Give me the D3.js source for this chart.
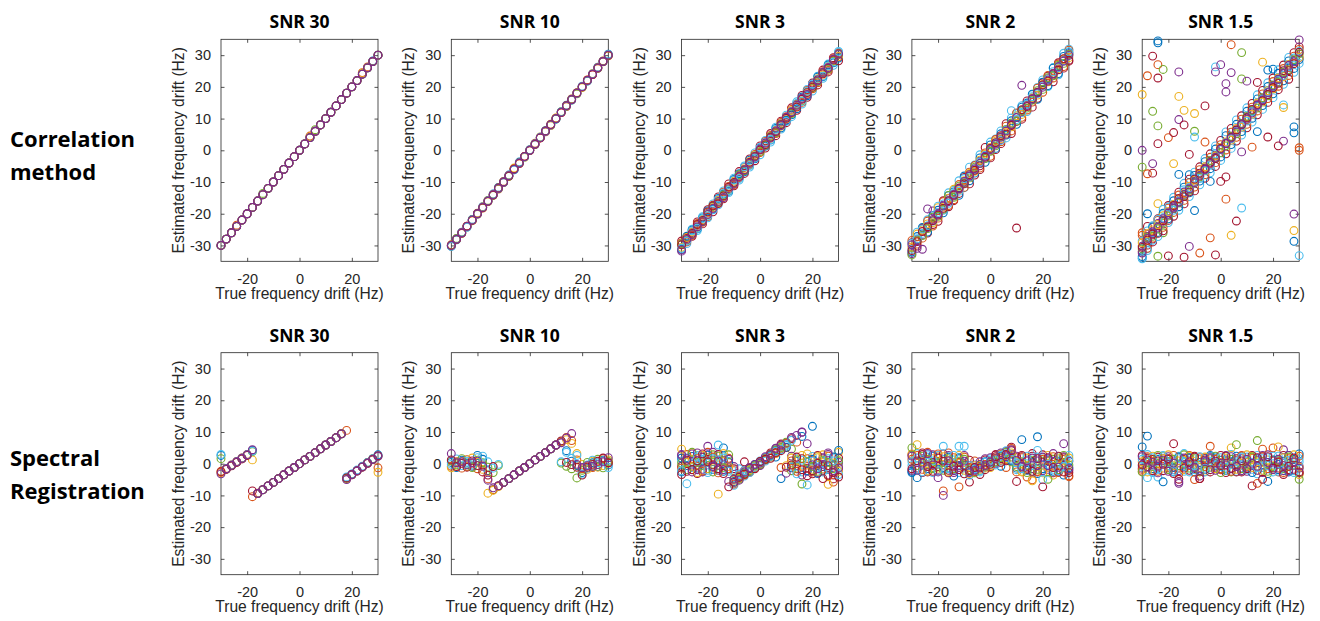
<!DOCTYPE html>
<html>
<head>
<meta charset="utf-8">
<script src="https://cdn.jsdelivr.net/npm/d3@7"></script>
<style>
  body { margin: 0; background: #fff; }
  svg { display: block; }
  .tick text { font-family: "Liberation Sans", Arial, Helvetica, sans-serif; font-size: 14.5px; fill: #262626; }
  .axis-label { font-family: "Liberation Sans", Arial, Helvetica, sans-serif; font-size: 15.6px; fill: #262626; }
  .title { font-family: "Open Sans", "Noto Sans", sans-serif; font-weight: 700; font-size: 17.5px; fill: #000; }
  .row-label { font-family: "Open Sans", "Noto Sans", sans-serif; font-weight: 700; font-size: 22px; fill: #000; }
</style>
</head>
<body>
<svg id="chart" width="1320" height="621"></svg>
<script>
// true drift values (Hz), shared by every panel
const drift = [-30,-28,-26,-24,-22,-20,-18,-16,-14,-12,-10,-8,-6,-4,-2,0,2,4,6,8,10,12,14,16,18,20,22,24,26,28,30]

const snrLabels = ['SNR 30', 'SNR 10', 'SNR 3', 'SNR 2', 'SNR 1.5']
const methodLabels = [['Correlation', 'method'], ['Spectral', 'Registration']]
const xTicks = [-20, 0, 20]
const yTicks = [-30, -20, -10, 0, 10, 20, 30]

// matlab colour order, purple drawn last
const markerColors = ['#0072BD', '#D95319', '#EDB120', '#77AC30', '#4DBEEE', '#A2142F', '#7E2F8E']

//----------------------- correlation method -------------------------------
const corr30 = [
[-30,-28,-26,-24,-22,-20,-18,-16,-14,-12,-10,-8,-6,-4,-2,0,2,4,6,8,10,12,14,16,18,20,22,24,26,28.2,30],
[-30,-28,-26,-23.6,-22,-20,-18,-16,-14,-12,-10,-8,-6,-4,-2,0,2,4.5,6,8,10,12,14,16,18,20,22,24.5,26.3,28,30],
[-30,-28,-26,-24,-22,-20,-18,-16,-14,-12,-10,-8,-6,-4,-2,0,2,4.3,6,8,10,12,14,16,18,20,22,24.3,26,28,30],
[-30,-28,-26,-24,-22,-20,-18,-16,-13.6,-12,-10,-8,-6,-4,-2,0,2,4,6.5,8,10,12,14,16,18,20,22,24,26,28,30],
[-30,-28,-26,-24,-22,-20,-18,-16,-14,-12,-10,-8,-6,-4,-2,0,2,4,6,8,10,12,14,16,18,20,22,24,26,28,30],
[-30,-28,-26,-24,-22,-20,-18,-16,-14,-12,-10,-8,-6,-4,-2,0,2,4,6,8,10,12,14,16,18,20,22,24,26,28,30],
[-30,-28,-26,-24,-22,-20,-18,-16,-14,-12,-10,-8,-6,-4,-2,0,2,4,6,8,10,12,14,16,18,20,22,24,26,28,30]
]

const corr10 = [
[-30.3,-28.2,-25.8,-24.2,-21.8,-20,-17.8,-16.1,-13.8,-11.7,-10.2,-7.8,-6.1,-3.7,-2.1,0.2,1.8,4.1,6.2,7.9,9.8,12.1,14.2,15.8,18.1,19.9,21.8,24.1,26.2,28,30.3],
[-29.8,-27.9,-26.2,-23.9,-22.1,-19.8,-18.2,-15.9,-14.1,-12.2,-9.8,-8.1,-5.8,-4.2,-1.9,-0.1,2.2,3.9,5.8,8.2,10.1,11.9,13.8,16.2,17.9,20.1,22.2,23.9,25.8,28.2,29.8],
[-30.1,-28.1,-25.9,-24.1,-22.2,-20.2,-17.9,-16.2,-13.9,-11.9,-10.1,-7.9,-5.6,-4.1,-2.2,0.1,1.9,4.2,5.9,7.8,10.2,12,14.1,15.9,18.2,19.8,22.1,24.2,26.1,27.9,30.1],
[-29.9,-27.8,-26.1,-24,-21.9,-19.9,-18.1,-15.8,-14.2,-12.1,-9.9,-8.2,-6,-3.9,-2,0,2.1,4,6.1,8.1,9.9,12.2,13.9,16.1,17.8,20,21.9,24,25.9,28.1,29.9],
[-30.2,-28,-26,-24.2,-22,-20.1,-18,-16,-14,-12,-10,-8,-6.2,-4,-2.1,0.1,2,4.1,6,8,10,12.1,14,16,18,20.2,22,24.1,26,28,30.2],
[-30,-28.1,-26.1,-23.9,-22.1,-20,-18.1,-16.1,-14.1,-11.9,-10,-8.1,-5.9,-4.1,-1.9,0,1.9,3.9,6.1,8.1,10,11.9,14.1,16,18.1,20,22.1,23.9,26,28,30],
[-30,-28,-26,-24,-22,-20,-18,-16,-14,-12,-10,-8,-6,-4,-2,0,2,4,6,8,10,12,14,16,18,20,22,24,26,28,30]
]

const corr3 = [
[-29.6,-29.4,-24.9,-25.3,-20.9,-21.3,-16.9,-17.2,-12.8,-13.3,-8.8,-9.4,-4.9,-5.3,-0.8,-1.4,3.1,2.6,7.3,6.7,11.1,10.6,15.3,14.6,19.2,18.7,23.4,22.7,27.2,26.8,30.9],
[-28.6,-27.3,-27.1,-22.6,-23.2,-18.7,-19.4,-14.7,-15.3,-10.6,-11.2,-6.7,-7.3,-2.7,-3.3,1.4,0.7,5.3,4.6,9.2,8.7,13.4,12.6,17.3,16.7,21.2,20.6,25.3,24.7,29.2,29.5],
[-31.8,-28.7,-25.9,-23.7,-22.4,-19.8,-18.2,-15.6,-14.4,-11.7,-10.4,-7.8,-6.5,-3.7,-2.3,0.2,1.6,4.2,5.6,8.3,9.6,12.3,13.8,16.2,17.7,20.3,21.8,24.4,25.7,28.2,30.2],
[-31.2,-27.1,-25.2,-24.8,-21.3,-19.1,-18.6,-15.2,-13.8,-12.9,-9.2,-7.4,-6.8,-3.1,-2.7,0.8,1.3,3.2,6.9,7.1,9.4,11.2,13.1,16.8,17.2,20.6,23.1,23.2,26.9,27.6,29.1],
[-29.2,-28.9,-26.8,-23.1,-22.7,-20.9,-17.3,-16.6,-13.2,-11.4,-10.8,-8.7,-5.4,-4.6,-1.3,-0.7,2.8,4.7,5.3,8.8,10.6,12.9,14.6,15.1,18.9,19.4,21.3,24.8,25.2,28.9,30.6],
[-30.6,-27.5,-25.7,-23.6,-21.8,-19.6,-18.1,-15.7,-14.6,-11.8,-9.7,-8.1,-5.9,-3.6,-2.2,0.3,2.1,3.8,6.3,7.6,9.9,12.5,13.7,16.3,17.8,20.2,22.6,23.7,26.4,28.3,29.6],
[-29.5,-28.3,-26.4,-24.3,-22.3,-20.3,-17.7,-16.3,-14.1,-12.4,-10.3,-7.7,-6.4,-4.3,-1.7,-0.4,1.6,4.4,5.6,8.3,10.3,11.6,14.3,15.6,18.4,19.7,21.7,24.4,25.6,28.1,30.3],
[-30.9,-28.6,-25.4,-24.6,-21.5,-20.7,-18.8,-15.4,-13.5,-12.7,-9.4,-8.9,-5.2,-4.8,-2.4,0.9,2.5,3.4,6.6,7.9,9.1,12.2,14.8,15.4,18.6,20.9,22.4,23.4,26.6,27.8,31.2],
[-29.8,-27.8,-26.2,-23.4,-22.1,-19.4,-17.5,-16.8,-14.4,-11.6,-10.1,-8.4,-6.2,-3.8,-1.9,0.1,1.8,4.1,5.9,8.1,10.1,11.9,13.6,16.1,18.2,19.9,22.2,24.1,25.9,28.5,28.2],
[-31.4,-28.1,-26.6,-24.1,-22.5,-20.2,-18.3,-16.1,-14.9,-12.1,-10.6,-8.2,-6.1,-4.1,-2.1,0.4,2.3,3.9,6.1,7.8,10.4,12.1,14.2,16.4,17.6,20.4,21.9,24.6,26.1,28.7,30.4]
]

const corr2 = [
[-31.2,-25.8,-26.2,-21.9,-21.1,-17.6,-18.9,-13.4,-12.6,-9.6,-11.8,-5.3,-4.6,-1.4,-2.6,2.6,3.6,6.1,3.9,10.2,11.6,14.1,12.2,17.6,19.8,22.2,20.1,26.1,23.8,30.6,31.9],
[-29.1,-30.2,-24.6,-26.1,-23.4,-22.4,-15.9,-17.8,-15.9,-13.6,-8.6,-10.6,-7.8,-6.1,0.9,-2.4,0.2,2.1,8.4,5.3,9.1,9.8,15.6,13.6,16.4,21.3,23.4,21.6,27.6,25.9,28.1],
[-32.6,-28.2,-26.7,-24.4,-19.1,-19.9,-17.3,-15.2,-14.4,-12.1,-10.2,-8.2,-6.2,-3.4,-1.8,0.6,2.2,3.4,6.2,8.1,10.4,12.6,14.4,16.1,18.2,20.4,22.6,24.2,26.4,28.4,30.4],
[-32.1,-27.2,-24.3,-25.8,-20.6,-18.9,-19.7,-14.3,-13.1,-14.2,-8.1,-9.6,-7.2,-2.4,-3.8,1.7,0.6,5.2,4.8,9.3,8.2,13.6,14.9,17.7,16.1,21.5,20.4,25.9,24.2,29.6,30.8],
[-28.4,-29.6,-27.7,-22.3,-23.9,-21.4,-16.2,-17.4,-15.6,-10.8,-11.7,-6.9,-4.8,-5.6,-0.8,-1.9,3.4,2.7,7.6,6.1,11.8,10.4,12.7,15.2,19.6,18.3,23.6,22.8,27.2,26.4,31.6],
[-30.5,-26.4,-25.1,-23.2,-22.8,-18.1,-17.9,-15.1,-12.3,-12.5,-9.6,-7.3,-6.6,-3.1,-1.2,0.9,2.9,3.6,5.7,7.4,10.9,11.3,14.2,16.6,17.4,20.8,21.6,24.3,25.8,28.7,29.2],
[-33,-28.5,-26.9,-24.7,-21.1,-20.8,-18.6,-14.2,-14.8,-11.3,-10.4,-8.7,-5.3,-4.2,-2.6,-0.3,1.4,4.3,6.6,8.6,9.2,12.4,13.3,15.8,18.8,19.2,22.9,23.5,26.8,27.4,30.2],
[-29.3,-27.9,-24.8,-23.8,-22.3,-19.6,-16.9,-16.7,-13.6,-12.9,-8.9,-8.3,-6.1,-3.7,-1.6,0.4,2.2,3.1,6.3,12.5,9.7,11.9,14.5,16.9,17.9,20.3,22.3,24.8,26.1,28.2,31.1],
[-31.6,-28.8,-25.6,-24.1,-22.2,-20.4,-18.3,-15.9,-14.1,-11.9,-10.6,-7.7,-6.3,-4.9,-2.2,0.6,2.4,4.6,5.1,7.9,-24.5,12.8,13.8,16.3,18.3,20.6,21.8,24.1,25.4,28.9,28.4],
[-29.8,-30.9,-31.2,-18.5,-21.8,-20.1,-17.6,-16.2,-13.9,-12.2,-9.8,-8.1,-5.8,-4.1,-1.9,0.2,1.9,4.1,6.1,8.2,10.3,20.5,14.1,16.2,18.1,19.9,22.1,24.2,26.3,28.1,29.9]
]

const corr15 = [
[-28.6,-25.4,-23.8,-27.2,-18.6,-22.8,-14.8,-18.9,-10.4,-14.6,-6.9,-10.9,-2.6,-7.1,1.4,-3.2,5.8,0.6,9.6,4.8,13.4,8.9,17.5,12.9,21.3,16.6,25.4,20.8,29.3,24.6,27.4],
[-31.9,-29.9,-28.9,-21.6,-25.4,-17.4,-20.8,-13.2,-16.9,-9.1,-12.8,-5.2,-8.8,-1.1,-5.1,3.1,-1.1,6.9,2.9,10.9,7.1,14.8,11.2,18.9,15.1,22.8,19.1,26.9,22.4,30.8,32.6],
[-30.2,-27.2,-26.1,-23.1,-22.4,-20.2,-17.8,-16.4,-13.2,-12.3,-9.8,-8.2,-5.6,-4.4,-1.6,0.4,2.4,4.3,6.4,7.7,10.4,12.2,14.2,16.3,18.3,19.6,22.3,24.4,26.3,28.3,29.2],
[-33.5,-29.1,-24.2,-25.9,-19.8,-21.6,-15.9,-17.8,-11.6,-13.4,-7.9,-9.7,-3.6,-5.8,0.4,-2.1,4.6,1.8,8.2,5.9,12.3,10.1,16.2,14.1,20.1,17.8,24.3,21.9,28.2,25.8,28.6],
[-26.8,-30.9,-27.7,-22.1,-24.3,-18.2,-19.6,-14.1,-15.8,-10.2,-11.6,-6.1,-7.7,-2.2,-3.9,1.8,0.1,5.7,4.1,9.8,8.2,13.6,12.4,17.8,16.3,21.7,20.2,25.8,23.6,29.7,31.8],
[-29.2,-26.3,-25.1,-23.4,-20.6,-19.3,-17.1,-15.4,-13.7,-11.3,-9.4,-7.6,-5.2,-4.3,-1.8,0.9,2.6,3.2,6.9,7.3,9.6,11.4,14.9,15.2,18.8,19.4,22.8,23.2,27.1,27.4,29.3],
[-31.1,-27.4,-27.1,-24.8,-22.9,-20.7,-18.4,-16.6,-14.3,-12.6,-10.3,-8.4,-6.5,-3.2,-2.4,-0.8,1.4,4.4,5.2,8.5,10.7,12.6,13.3,16.6,17.2,20.6,21.4,24.7,25.4,28.6,30.4],
[-34.2,-31.6,-28.4,-21.8,-21.3,-17.9,-18.9,-16.1,-12.4,-11.8,-8.8,-8.9,-6.3,-4.6,-1.1,0.2,2.3,3.7,6.1,7.7,9.2,12.2,14.1,16.1,18.4,20.1,22.2,23.6,26.3,29.1,31.2],
[-30.6,-28.3,-26.4,-26.2,-22.2,-22.1,-17.4,-15.2,-14.6,-13.1,-9.1,-7.2,-5.9,-3.8,-2.6,0.6,2.1,4.1,6.4,8.1,10.2,12.9,14.4,15.7,17.6,19.8,21.1,25.1,25.1,27.3,30.9],
[-32.4,-27.8,-25.7,-24.3,-21.6,-19.7,-18.2,-16.3,-13.9,-12.1,-10.2,-7.9,-6.1,-4.1,-2.2,0.3,2.2,3.9,5.8,8.3,9.8,11.8,14.2,15.9,18.2,20.3,22.4,24.2,26.8,27.9,34.8]
]

// off-line estimates [true, estimated, colour index]
const corr15Extra = [
[-24,34.5,0],[-24,33.9,0],[-26,29.7,5],[-24,27,1],[-22,25.5,3],[-28,23.5,1],[-24,22.8,5],[-16,24.7,6],[-30,17.6,2],[-16,17,2],
[-2,26.3,4],[-2,24.7,6],[0,27,6],[4,24.5,6],[4,33.3,1],[8,30.8,3],[2,21,6],[2,18.4,6],[8,22.5,3],[10,21.8,6],
[14,21.4,5],[16,27.8,2],[18,25.3,0],[-26,12.3,3],[-24,7.7,3],[-24,2.1,5],[-16,9.7,6],[-14,8,5],[-20,4,1],[-18,5.6,5],
[-14,12.6,2],[-10,11.6,2],[-10,6,3],[-10,4.2,4],[-6,14,5],[-6,2.6,1],[-30,0,6],[-30,-5.3,3],[-28,-7.4,1],[-26,-4.2,6],
[-26,-7.2,5],[-12,-1.3,5],[-18,-4.2,2],[-16,-7.6,0],[-12,-7.7,0],[-10,-19,0],[-4,-9.8,0],[0,-9.8,5],[2,-8.4,5],[2,-15.4,1],
[6,-22.3,5],[8,-18.2,4],[4,-26.8,2],[-4,-27.6,1],[-12,-30.3,6],[-20,-33.3,5],[-14,-33.7,5],[-8,-32.4,1],[-2,-33,5],[-24,-33.4,3],
[-24,-16.8,2],[-28,-20,0],[28,-20.1,6],[28,-25.3,2],[28,-28.7,0],[30,-33.2,4],[28,7.4,0],[28,5.5,0],[30,0.8,1],[30,0,1],
[24,2.9,6],[22,1.4,5],[14,5.9,0],[18,4.2,5],[12,1,1],[8,-0.5,6],[24,14.3,4],[24,13.5,2],[20,25.6,0],[-28,-24,5],
[-30,-26,1],[-28,-31,4],[-30,-34,0],[-26,-28,5],[-22,-26,3],[-22,-20,4]
]

//----------------------- spectral registration ----------------------------
const sr30 = [
[2.6,-1.7,-0.6,0.5,1.6,2.7,4.2,-9.4,-8.2,-7,-5.9,-4.7,-3.5,-2.3,-1.2,0,1.2,2.3,3.5,4.7,5.9,7,8.2,9.4,-4.4,-3.3,-2.1,-0.9,0.3,1.5,2.8],
[-2.4,-1.5,-0.4,0.7,1.8,2.9,-10.4,-9.3,-8.2,-7,-5.9,-4.7,-3.5,-2.3,-1.2,0,1.2,2.3,3.5,4.7,5.9,7,8.2,9.5,10.5,-3.5,-2.3,-1.1,0.1,1.3,-1.3],
[-2.8,-1.7,-0.6,0.5,1.6,2.7,1.2,-9.4,-8.2,-7,-5.9,-4.7,-3.5,-2.3,-1.2,0,1.2,2.3,3.5,4.7,5.9,7,8.2,9.4,-4.8,-3.4,-2.2,-1,0.2,1.2,-2.7],
[1.6,-1.6,-0.5,0.6,1.7,2.8,3.8,-9.4,-8.2,-7,-5.9,-4.7,-3.5,-2.3,-1.2,0,1.2,2.3,3.5,4.7,5.9,7,8.2,9.4,-4.6,-3.4,-2.2,-1,0.4,1.6,2.4],
[2.9,-1.6,-0.5,0.6,1.7,2.8,4,-9.4,-8.2,-7,-5.9,-4.7,-3.5,-2.3,-1.2,0,1.2,2.3,3.5,4.7,5.9,7,8.2,9.4,-4.2,-3.2,-2,-0.8,0.4,1.6,2.6],
[-2.6,-1.8,-0.7,0.4,1.5,2.6,-8.6,-9.4,-8.2,-7,-5.9,-4.7,-3.5,-2.3,-1.2,0,1.2,2.3,3.5,4.7,5.9,7,8.2,9.4,-4.5,-3.4,-2.2,-1,0.2,1.4,2.5],
[-3.2,-1.6,-0.5,0.6,1.7,2.8,4.4,-9.4,-8.2,-7,-5.9,-4.7,-3.5,-2.3,-1.2,0,1.2,2.3,3.5,4.7,5.9,7,8.2,9.4,-5,-3.5,-2.3,-1.1,0.1,1.3,2.3]
]

const sr10 = [
[0.4,-1.2,1.1,0.2,-0.8,2.6,1.4,-2.2,-8.2,-7,-5.9,-4.7,-3.5,-2.3,-1.2,0,1.2,2.3,3.5,4.7,5.9,7,4.1,0.8,-0.6,-2.8,-1.4,0.3,-0.9,1.1,-0.4],
[-0.8,0.6,-1.4,1.3,0.2,-1.6,-0.4,-4.8,-8.2,-7,-5.9,-4.7,-3.5,-2.3,-1.2,0,1.2,2.3,3.5,4.7,5.9,6.8,8.3,7.3,1.2,-1.6,-0.7,-1.2,0.6,1.6,0.2],
[-1.3,0.2,0.7,-0.9,1.8,0.4,-1.8,-9.3,-8.4,-7.2,-5.9,-4.7,-3.5,-2.3,-1.2,0,1.2,2.3,3.5,4.7,5.9,7,7.6,6.4,3.2,-0.2,-1.8,0.8,-1.1,-0.6,1.2],
[0.9,-0.4,1.6,-0.3,-1.2,1.1,0.3,-1.1,-2.8,-0.6,-5.9,-4.7,-3.5,-2.3,-1.2,0,1.2,2.3,3.5,4.7,5.9,0.2,-0.8,-1.6,-4.5,-2.1,0.4,-0.8,1.4,-1.3,0.7],
[-0.2,1.5,-0.6,0.8,-0.4,1.9,2.4,0.6,-1.4,-0.2,-5.9,-4.7,-3.5,-2.3,-1.2,0,1.2,2.3,3.5,4.7,5.9,0.6,3.6,1.7,2.6,-3.3,-0.4,1.1,0.3,0.9,-1.2],
[1.2,-0.9,0.1,-1.1,0.9,-0.6,-2.6,-3.6,-0.9,-7,-5.9,-4.7,-3.5,-2.3,-1.2,0,1.2,2.3,3.5,4.7,5.9,7.2,0.4,-0.3,-1.1,-3.6,-1.1,-0.2,0.8,1.8,0.3],
[3.2,0.3,0.6,-0.4,0.3,0.8,-0.8,-5.2,-7.6,-7,-5.9,-4.7,-3.5,-2.3,-1.2,0,1.2,2.3,3.5,4.7,5.9,6.6,8.1,9.5,-0.2,-1.2,-0.6,-0.8,-0.3,0.6,1.9]
]

const sr3 = [
[0.9,1.8,-1.2,2.6,0.4,-2.8,1.9,-0.6,2.4,-1.9,-6.8,-3.2,-3.9,-2.4,-0.7,0.9,1.9,2.4,4.2,5.3,6.2,-0.8,1.6,-2.6,0.4,2.3,-0.6,-2.1,-1.2,1.6,-0.6],
[-0.8,-2.4,0.6,-0.4,2.1,1.4,-1.1,2.9,-0.4,0.4,-1.6,-4.4,-3.4,-1.8,-1.2,-0.4,1.2,3.4,3.6,6.2,5.1,7.9,-1.6,1.6,-1.4,-3.2,2.6,-0.9,-3.6,-0.4,1.8],
[2.9,0.8,3.1,-1.9,-2.4,0.9,3.6,-2.1,1.1,-5.6,-0.9,-4.6,-2.1,-2.6,-0.2,-0.6,1.7,2.2,4.9,4.6,6.6,2.4,-0.6,-3.6,-2.4,1.1,-2.8,1.6,2.9,-3.6,0.4],
[1.8,-0.6,2.3,-1.4,0.9,2.7,-1.8,1.2,-2.4,0.6,-5.6,-4.1,-2.9,-1.6,-0.4,0.3,1.8,2.6,4.1,-4.7,5.2,-1.3,0.8,8.6,-2.2,1.4,-3.1,0.6,-1.8,2.1,4.2],
[-1.4,2.9,-0.8,1.6,-2.3,0.4,2.1,-2.9,0.7,-1.6,-6.4,-3.8,-3.6,-2.7,-1.3,0.6,1.1,3.1,3.7,5.6,6.4,0.9,-2.4,-0.8,1.6,-2.6,0.3,-1.7,2.4,-5.8,-1.2],
[4.6,0.4,1.4,-2.8,2.6,-1.6,0.8,-9.6,3.2,-0.9,-5.2,-4.6,-2.4,-1.9,-0.9,0.1,1.6,2.1,3.2,4.9,-0.6,1.8,-1.4,2.6,-0.4,-1.8,1.9,2.8,-6.5,0.2,-2.4],
[0.2,-1.9,3.6,0.4,-0.6,1.9,-2.6,2.4,-1.3,2.8,-4.8,-4.9,-3.1,-2.2,-0.6,-0.2,1.3,2.8,4.4,5.1,6.8,-2.2,1.2,-6.4,0.6,-0.9,-2.4,1.1,0.4,-1.6,0.9],
[-2.2,-6.3,0.2,2.1,1.4,-2.1,1.6,5.9,1.8,-2.4,-6.1,-3.4,-2.2,-2.8,-1.1,0.4,0.8,2.3,3.9,4.4,5.8,7.4,-3.2,1.1,-6.7,0.8,-1.2,-2.6,1.6,0.9,-3.4],
[-3.4,1.1,-1.9,0.9,3.1,0.6,-0.4,-1.6,-3.1,-7.3,-5.9,-4.3,-3.3,-1.4,-1.6,0.7,1.4,1.7,3.4,4.1,-1.1,-0.4,2.1,-1.9,-3.8,-2.2,0.1,-4.7,-0.6,-2.8,-4.2],
[2.6,1.6,-2.6,3.4,-1.8,5.5,-0.9,0.8,-1.9,1.4,-4.9,-5.2,-2.6,-1.2,-0.2,0.2,2.2,2.9,4.8,5.9,-3,8.3,8.9,9.9,6.3,-0.4,-1.6,-0.2,3.4,-2.2,-1.4]
]

const sr3Extra = [
[-14,5,0],[20,11.8,0],[16,10,6],[-20,3.6,1],[-22,-2.6,6],[-26,3.4,2],[-18,2.8,3],[-10,-2.2,1],[-8,-1.6,4],[-6,0.6,5],
[8,-1.2,1],[12,4.6,3],[14,6.8,1],[22,2.4,2],[26,-3.8,1],[28,-4.8,5],[30,3.6,2],[-30,-2.6,0],[-24,-3.1,5],[-12,1.7,1],
[6,2.1,0],[18,3.1,2],[24,1.9,6]
]

const sr2 = [
[-0.6,3.2,-0.6,2.1,-2.8,2.6,-1.6,-1.2,1.2,-2.8,-1.1,-3.6,-0.4,-2.1,-0.4,1.6,0.4,0.8,1.9,2.9,-1.9,-0.9,1.2,-2.6,2.1,-0.4,-2.9,-1.8,1.2,-0.6,2.6],
[2.8,-1.4,3.4,-2.6,0.4,-0.9,3.1,-2.1,-0.4,0.4,-0.6,1.1,-2.6,-3.4,1.2,-0.9,2.8,1.6,0.9,5.2,1.9,2.2,-1.9,2.4,-2.6,2.8,0.9,-2.9,-0.6,1.9,-2.1],
[-2.1,0.4,1.6,-0.4,2.8,-2.6,-0.4,2.6,-2.8,-1.2,2.6,-0.6,-1.1,0.6,-1.1,1.9,0.1,2.9,3.9,1.2,0.8,-1.1,-0.9,-1.6,0.9,-2.2,1.6,0.4,-2.6,2.2,0.8],
[-2.8,-4.4,1.2,-1.6,2.4,0.6,-1.2,2.1,-3.9,1.6,-0.4,-2.6,-1.8,-1.1,0.6,0.4,1.2,2.4,3.1,0.9,-1.4,7.6,-2.1,0.4,8.5,-1.6,1.2,-2.4,0.6,-3.6,-1.2],
[1.4,2.6,-1.8,0.8,-0.6,3.1,-8.6,-0.4,1.9,-7.3,2.1,-1.2,-2.4,-0.8,-0.2,0.9,1.8,1.1,2.6,4.8,-2.6,1.9,-0.6,-5.1,-2.4,1.4,-1.1,2.2,-2.8,0.4,-4.1],
[3.1,6,0.6,-2.3,1.6,-1.4,2.2,-2.6,0.4,2.6,-2.1,-3.1,-0.6,-1.8,-1.4,-0.6,1.4,3.1,1.6,3.4,0.6,-2.4,1.8,-5.4,-0.9,-2.9,2.6,-0.8,1.6,-1.4,1.8],
[5,-0.6,2.4,1.4,-1.6,0.2,-2.1,1.6,-1.6,0.8,1.4,-1.9,-2.9,-0.4,-0.8,0.2,0.6,1.9,3.6,2.1,-0.9,0.6,-2.8,1.1,-1.8,0.8,-4.9,1.4,-1.9,2.6,-0.4],
[0.6,1.8,-2.6,2.8,0.9,-2.2,5.5,-1.6,2.6,5.5,5.5,-0.6,-1.6,-2.6,0.4,1.1,-0.4,2.6,4.1,1.4,0.3,-1.6,2.4,-0.6,4.2,-5,-0.2,0.8,-2.2,-0.9,1.1],
[-1.6,0.9,2.9,-0.9,-2.4,1.8,0.8,-2.9,-0.8,-1.9,-3.2,-2.2,-1.2,-1.4,-1.9,-0.2,2.2,0.4,2.9,4.1,-5.6,2.6,-1.4,-2.4,1.6,-7.3,1.9,-1.2,2.4,-2.6,-2.8],
[2.4,-2.1,0.2,3.2,-0.4,-4.4,-10,0.9,-2.2,-0.6,0.8,-2.8,-2.1,-0.2,-0.6,0.6,1.6,3.4,2.2,4.4,1.1,-0.8,0.9,1.8,-0.6,2.1,-0.6,3.2,-1.1,6.3,-1.6]
]

const sr2Extra = [
[-30,-2.4,0],[-26,-2.8,5],[-24,3.6,1],[-22,-1.2,3],[-20,2.2,2],[-18,1.4,4],[-16,3.4,1],[-14,-1.8,6],[-12,1.9,0],[-10,-1.4,2],
[-8,-5.8,5],[-6,0.9,1],[-4,-2.2,4],[-2,1.6,6],[0,-1.2,2],[2,2.8,5],[6,-1.2,1],[8,0.6,3],[12,-2.6,2],[14,-4.2,1],
[16,3.2,5],[18,-3.1,0],[20,1.9,4],[22,-1.8,6],[24,-3.6,2],[26,2.2,3],[28,1.4,1],[30,-3.8,1],[10,2.4,6],[4,-0.8,0]
]

const sr15 = [
[-0.8,2.9,-2.6,-1.2,2.6,-0.6,-1.9,2.4,-2.4,1.1,-1.9,1.4,-2.6,0.2,2.1,-0.9,-1.6,2.9,-2.4,-0.6,2.1,-1.8,2.6,-1.2,1.9,-2.6,2.4,-1.2,0.8,-2.2,1.6],
[2.6,-0.9,1.4,2.1,-2.2,1.4,-3.1,-1.4,1.4,-2.1,2.4,-0.4,1.8,-2.6,0.2,2.6,-2.8,0.2,1.6,-2.6,-1.1,2.6,-2.1,2.2,-0.4,0.9,-1.4,2.6,-1.9,0.4,-2.9],
[-1.4,0.8,-0.4,-2.9,0.2,2.2,0.9,-2.2,-0.2,1.8,-0.8,-2.1,0.9,1.9,-1.1,-0.4,1.2,-1.6,-0.8,1.6,0.4,-0.6,1.1,-2.8,2.8,-1.1,-0.2,-2.2,2.6,1.2,-0.8],
[5.3,8.7,-1.6,1.4,-5.7,0.6,-1.2,2.1,-0.8,1.9,-2.6,0.4,-1.8,2.6,-0.6,1.1,-2.1,0.6,2.4,-1.4,0.9,-2.8,1.6,-0.4,-5.6,1.2,-1.9,0.8,-2.6,1.4,3.1],
[-1.8,2.2,0.8,-2.4,1.6,-1.1,2.6,-3.1,1.2,-0.6,-5,1.9,-0.9,5.5,1.4,-1.6,0.6,-2.4,1.1,2.6,-0.8,1.8,-6.2,4.6,-1.6,5,0.4,-2.8,1.6,-0.6,2.4],
[0.6,-2.6,2.4,0.2,-1.4,2.8,-0.6,0.9,-1.9,2.4,0.8,-1.2,2.1,-0.4,-1.6,0.4,1.8,5,-1.8,0.2,2.8,-1.2,0.6,-2.1,1.2,-0.6,5.3,1.9,-0.9,2.8,-1.1],
[-2.6,0.4,-0.9,2.6,0.8,-1.9,1.4,-0.6,2.8,-1.4,1.6,-2.6,0.2,-1.1,2.4,-2.8,0.9,1.4,6,-1.6,-0.4,2.1,7.3,0.8,-2.4,-0.9,1.1,-1.6,2.1,-0.4,-4.9],
[1.4,-4.4,1.9,-1.6,2.2,0.2,-2.4,1.6,0.4,-2.6,-0.6,2.2,-1.4,0.8,-0.4,1.9,-1.1,-0.2,0.6,2.1,-1.8,0.4,-1.2,1.6,-0.6,2.4,-2.4,0.2,1.1,-2.8,0.6],
[-0.4,1.2,-2.2,0.9,-0.2,1.6,6.3,-4.9,-1.4,0.6,2.1,-4.7,1.2,-1.9,0.8,-0.6,2.4,-1.4,-2.6,0.9,-1.6,-7,1.9,-4.9,2.2,-1.4,0.6,-3.4,-0.8,1.8,-2.6],
[2.2,-1.1,0.4,-0.8,1.1,-2.4,0.2,-5.7,1.8,-0.2,-1.2,-3.9,0.6,1.6,-2.1,0.2,-0.4,2.2,-0.9,-2.2,1.4,0.1,-0.8,2.6,0.4,-1.9,1.4,-0.6,-2.2,0.6,-1.4]
]

const sr15Extra = [
[-30,-2.4,1],[-28,1.8,5],[-26,-2.8,4],[-24,-4.2,4],[-22,2.4,2],[-20,-1.4,3],[-18,-2.6,0],[-16,-6.2,6],[-14,3.2,4],[-12,2.6,1],
[-10,-1.6,5],[-8,-4.7,5],[-6,-2.4,2],[-4,2.2,0],[-2,1.6,3],[0,-1.9,1],[2,2.6,6],[4,-2.6,3],[6,-0.4,5],[8,2.4,1],
[10,-2.4,6],[12,2.4,2],[14,-3.2,4],[16,0.6,1],[18,-3.1,3],[20,1.2,2],[22,-2.6,1],[24,4.4,6],[26,2.6,0],[28,-1.8,5],[30,-3.4,2]
]

const panelSeries = [[corr30, corr10, corr3, corr2, corr15], [sr30, sr10, sr3, sr2, sr15]]
const panelExtra = [[[], [], [], [], corr15Extra], [[], [], sr3Extra, sr2Extra, sr15Extra]]

//----------------------------- layout -------------------------------------
const firstLeft = 221
const colStep = 230.3
const panelW = 157
const panelH = 222
const rowTops = [39.3, 352.7]
const markerR = 3.9

const svg = d3.select('#chart')

methodLabels.forEach((lines, r) => {
	const t = svg.append('text').attr('class', 'row-label')
	const base = r === 0 ? 147 : 466
	lines.forEach((l, k) => {
		t.append('tspan').attr('x', 10).attr('y', base + k * 33).text(l)
	})
})

panelSeries.forEach((row, r) => {
	row.forEach((series, c) => {

		const left = firstLeft + c * colStep
		const top = rowTops[r]

		const x = d3.scaleLinear().domain([-30, 30]).range([left, left + panelW])
		const y = d3.scaleLinear().domain([-35, 35]).range([top + panelH, top])

		const g = svg.append('g')

		// axes, ticks pointing inwards like matlab
		const bottom = g.append('g')
			.attr('transform', `translate(0,${top + panelH})`)
			.call(d3.axisBottom(x).tickValues(xTicks).tickSizeInner(-3.5).tickSizeOuter(0).tickPadding(12))
		const topAx = g.append('g')
			.attr('transform', `translate(0,${top})`)
			.call(d3.axisTop(x).tickValues(xTicks).tickSizeInner(-3.5).tickSizeOuter(0).tickFormat(''))
		const leftAx = g.append('g')
			.attr('transform', `translate(${left},0)`)
			.call(d3.axisLeft(y).tickValues(yTicks).tickSizeInner(-3.5).tickSizeOuter(0).tickPadding(10))
		const rightAx = g.append('g')
			.attr('transform', `translate(${left + panelW},0)`)
			.call(d3.axisRight(y).tickValues(yTicks).tickSizeInner(-3.5).tickSizeOuter(0).tickFormat(''))

		;[bottom, topAx, leftAx, rightAx].forEach(a => {
			a.select('.domain').remove()
			a.selectAll('line').attr('stroke', '#262626').attr('stroke-width', 0.8)
		})
		leftAx.selectAll('text').text(d => d < 0 ? '-' + Math.abs(d) : d)
		bottom.selectAll('text').text(d => d < 0 ? '-' + Math.abs(d) : d)

		g.append('rect')
			.attr('x', left).attr('y', top)
			.attr('width', panelW).attr('height', panelH)
			.attr('fill', 'none').attr('stroke', '#262626').attr('stroke-width', 0.8)

		// markers
		const marks = g.append('g')
		marks.selectAll('circle.extra')
			.data(panelExtra[r][c])
			.join('circle')
			.attr('class', 'extra')
			.attr('cx', d => x(d[0]))
			.attr('cy', d => y(d[1]))
			.attr('r', markerR)
			.attr('fill', 'none')
			.attr('stroke', d => markerColors[d[2]])
			.attr('stroke-width', 1.1)

		// longer lists start a cycle early so purple still ends on top
		const offset = (7 - series.length % 7) % 7
		series.forEach((vals, s) => {
			marks.append('g')
				.selectAll('circle')
				.data(vals.map((v, i) => [drift[i], v]))
				.join('circle')
				.attr('cx', d => x(d[0]))
				.attr('cy', d => y(d[1]))
				.attr('r', markerR)
				.attr('fill', 'none')
				.attr('stroke', markerColors[(s + offset) % markerColors.length])
				.attr('stroke-width', 1.1)
		})

		// labels
		g.append('text').attr('class', 'title')
			.attr('x', left + panelW / 2).attr('y', top - 11)
			.attr('text-anchor', 'middle')
			.text(snrLabels[c])

		g.append('text').attr('class', 'axis-label')
			.attr('x', left + panelW / 2).attr('y', top + panelH + 37.5)
			.attr('text-anchor', 'middle')
			.text('True frequency drift (Hz)')

		g.append('text').attr('class', 'axis-label')
			.attr('transform', `translate(${left - 37},${top + panelH / 2}) rotate(-90)`)
			.attr('text-anchor', 'middle')
			.text('Estimated frequency drift (Hz)')
	})
})
</script>
</body>
</html>
